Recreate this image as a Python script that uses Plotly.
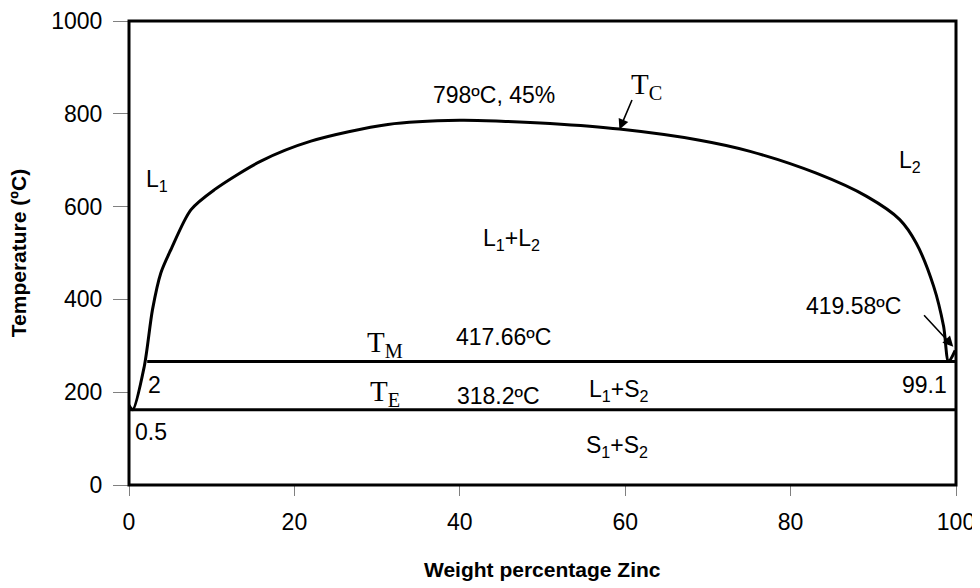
import plotly.graph_objects as go

# ---- data ----
curve_x = [0, 0.45, 1.84, 2.84, 3.85, 5.06, 7.48, 10.3, 15.95, 22.0, 31.3, 40, 45, 50.9,
           59.3, 69.0, 75.1, 83.1, 89.2, 93.2, 95.2, 97.3, 98.5, 99.1, 99.9]
curve_t = [172, 162, 255, 378, 457, 507, 593, 636, 698, 741, 777, 786, 784, 779,
           767, 743, 719, 672, 622, 572, 521, 428, 342, 266, 290]

tm_x = [2.2, 100]
tm_t = [266, 266]
te_x = [0, 100]
te_t = [162, 162]

x_ticks = [0, 20, 40, 60, 80, 100]
y_ticks = [0, 200, 400, 600, 800, 1000]

SANS = "Liberation Sans, Arial, sans-serif"
SERIF = "Liberation Serif, Times New Roman, serif"
FS = 23

fig = go.Figure()
fig.add_trace(go.Scatter(x=curve_x, y=curve_t, mode="lines",
                         line=dict(color="black", width=3, shape="spline", smoothing=0.8),
                         hoverinfo="skip", showlegend=False))
fig.add_trace(go.Scatter(x=tm_x, y=tm_t, mode="lines", line=dict(color="black", width=3),
                         showlegend=False))
fig.add_trace(go.Scatter(x=te_x, y=te_t, mode="lines", line=dict(color="black", width=3),
                         showlegend=False))

# text labels (x, y, text, font family, size)
labels = [
    (44.1, 841, "798ºC, 45%", SANS, FS),
    (62.6, 860, "T<sub>C</sub>", SERIF, 29),
    (3.4, 656, "L<sub>1</sub>", SANS, FS),
    (94.4, 697, "L<sub>2</sub>", SANS, FS),
    (46.3, 529, "L<sub>1</sub>+L<sub>2</sub>", SANS, FS),
    (30.9, 304, "T<sub>M</sub>", SERIF, 29),
    (45.3, 319, "417.66ºC", SANS, FS),
    (30.9, 198, "T<sub>E</sub>", SERIF, 29),
    (44.7, 192, "318.2ºC", SANS, FS),
    (59.3, 203, "L<sub>1</sub>+S<sub>2</sub>", SANS, FS),
    (59.0, 82, "S<sub>1</sub>+S<sub>2</sub>", SANS, FS),
    (3.1, 216, "2", SANS, FS),
    (2.6, 114, "0.5", SANS, FS),
    (96.2, 216, "99.1", SANS, FS),
    (87.6, 386, "419.58ºC", SANS, FS),
]
annotations = []
for x, y, t, fam, sz in labels:
    annotations.append(dict(x=x, y=y, xref="x", yref="y", text=t, showarrow=False,
                            font=dict(family=fam, size=sz, color="black"),
                            xanchor="center", yanchor="middle"))

# arrows: (head x, head y, tail x, tail y)
arrows = [(59.3, 766, 60.9, 833), (99.67, 298, 95.97, 369)]
for hx, hy, tx, ty in arrows:
    annotations.append(dict(x=hx, y=hy, ax=tx, ay=ty, xref="x", yref="y",
                            axref="x", ayref="y", text="", showarrow=True,
                            arrowhead=2, arrowsize=1.3, arrowwidth=1.6,
                            arrowcolor="black"))

# axis titles
annotations.append(dict(x=0.5, y=-0.183, xref="paper", yref="paper",
                        text="<b>Weight percentage Zinc</b>", showarrow=False,
                        font=dict(family=SANS, size=21, color="black"),
                        xanchor="center", yanchor="middle"))
annotations.append(dict(x=-0.134, y=0.5, xref="paper", yref="paper",
                        text="<b>Temperature (ºC)</b>", showarrow=False, textangle=-90,
                        font=dict(family=SANS, size=21, color="black"),
                        xanchor="center", yanchor="middle"))

fig.update_layout(
    width=972, height=580,
    margin=dict(l=121, r=24, t=13, b=103, autoexpand=False),
    paper_bgcolor="white", plot_bgcolor="white",
    font=dict(family=SANS, size=FS, color="black"),
    annotations=annotations,
    shapes=[dict(type="rect", xref="paper", yref="paper", x0=0, x1=1, y0=0, y1=1,
                 line=dict(color="black", width=3), layer="above")],
    xaxis=dict(range=[0, 100], tickvals=x_ticks, showgrid=False, zeroline=False,
               showline=True, linecolor="#808080", mirror=True,
               ticks="outside", ticklen=10, tickcolor="#808080",
               ticklabelstandoff=6, tickfont=dict(family=SANS, size=FS, color="black")),
    yaxis=dict(range=[0, 1000], tickvals=y_ticks, showgrid=False, zeroline=False,
               showline=True, linecolor="#808080", mirror=True,
               ticks="outside", ticklen=15, tickcolor="#808080",
               ticklabelstandoff=6, tickfont=dict(family=SANS, size=FS, color="black")),
)

fig.write_html("out.html")
